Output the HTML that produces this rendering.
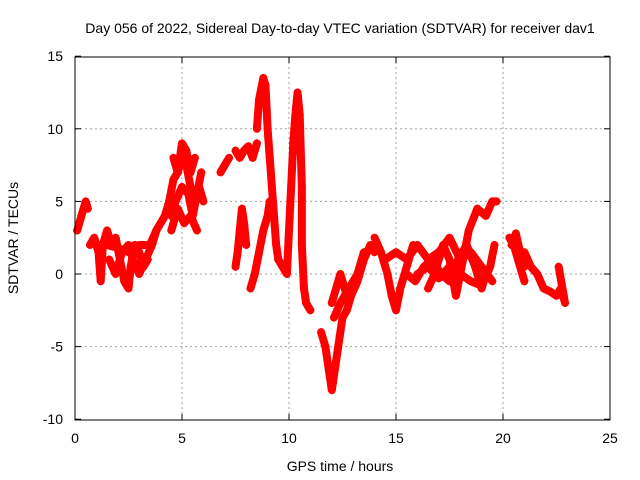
<!DOCTYPE html>
<html><head><meta charset="utf-8"><style>
body{margin:0;background:#fff}
svg{display:block;font-family:"Liberation Sans",sans-serif}
</style></head><body>
<svg id="chart" width="640" height="480">
<rect width="640" height="480" fill="#fff"/>
<text x="340" y="33" font-size="14" text-anchor="middle">Day 056 of 2022, Sidereal Day-to-day VTEC variation (SDTVAR) for receiver dav1</text>
<text x="340" y="471" font-size="14" text-anchor="middle">GPS time / hours</text>
<text x="18" y="238" font-size="14" text-anchor="middle" transform="rotate(-90 18 238)">SDTVAR / TECUs</text>
<g id="grid"></g><g id="marks"></g>
<rect x="75" y="57" width="535" height="363" fill="none" stroke="#000"/>
<g id="ticks"></g>
</svg>
<script>
const xTicks=[0,5,10,15,20,25];
const yTicks=[-10,-5,0,5,10,15];
const track1=[[0.1,3],[0.2,3.5],[0.3,4],[0.4,4.5],[0.5,5],[0.6,4.5]];
const track2=[[0.7,2],[0.9,2.5],[1.1,1.5],[1.2,-0.5],[1.3,2],[1.5,3],[1.7,2],[1.9,2.5],[2.1,1],[2.3,-0.5],[2.5,-1],[2.6,0.5],[2.8,2],[3.0,1.5],[3.2,0.5],[3.4,1]];
const track3=[[1.6,1],[1.9,0],[2.2,1.5],[2.5,2],[2.7,1],[3.0,0],[3.3,1],[3.6,2],[3.8,3]];
const track4=[[3.5,2],[3.8,3],[4.0,3.5],[4.2,4],[4.4,5],[4.6,6.5],[4.8,7],[5.0,8],[5.2,7.5],[5.4,6],[5.6,5],[5.8,6],[6.0,5]];
const track5=[[4.5,4],[4.7,5],[5.0,6],[5.3,5.5],[5.5,4],[5.7,5.5],[5.9,7]];
const track6=[[6.8,7],[7.0,7.5],[7.2,8]];
const track7=[[7.5,8.5],[7.7,8],[7.9,8.5],[8.1,8.8],[8.3,8],[8.5,9]];
const track8=[[8.5,10],[8.6,12],[8.8,13.5],[8.9,13],[9.0,10],[9.1,8],[9.2,6],[9.3,4],[9.4,2],[9.5,1]];
const track9=[[7.5,0.5],[7.6,1.5],[7.7,3],[7.8,4.5],[7.9,3.5],[8.0,2]];
const track10=[[8.2,-1],[8.4,0],[8.6,1.5],[8.8,3],[9.0,4],[9.1,5]];
const track11=[[9.5,1],[9.7,0.5],[9.9,0],[10.0,3],[10.1,6],[10.2,9],[10.3,11],[10.4,12.5],[10.5,11],[10.6,6],[10.6,2],[10.7,-1],[10.8,-2],[11.0,-2.5]];
const track12=[[11.5,-4],[11.7,-5],[11.9,-7],[12.0,-8],[12.1,-7],[12.3,-5],[12.5,-3],[12.7,-2.5],[12.9,-1.5],[13.2,-0.5],[13.5,1],[13.8,2],[14.0,1.5]];
const track13=[[12.0,-2],[12.2,-1],[12.4,0],[12.6,-1],[12.8,-2]];
const track14=[[14.0,2.5],[14.3,1.5],[14.6,0],[14.8,-1.5],[15.0,-2.5],[15.2,-1],[15.4,0],[15.6,1],[15.8,2]];
const track15=[[15.5,0],[15.9,-0.5],[16.3,0.5],[16.7,1],[17.1,0],[17.5,-0.5],[17.9,1],[18.3,2],[18.7,0.5],[19.0,-1],[19.2,0]];
const track16=[[16.5,-1],[16.8,0],[17.2,2],[17.5,1],[17.8,-1.5],[18.0,0],[18.4,3],[18.8,4.5],[19.2,4],[19.5,5],[19.7,5]];
const track17=[[20.3,2.5],[20.5,2],[20.7,1],[20.9,0],[21.0,-0.5]];
const track18=[[20.7,1],[21.0,1.5],[21.3,0.5],[21.6,0],[21.9,-1],[22.2,-1.2],[22.5,-1.5],[22.7,-1],[22.9,-2],[22.6,0.5]];
const track19=[[4.6,8],[4.8,7],[5.0,9],[5.2,8.5],[5.4,7],[5.6,8]];
const track20=[[4.5,3],[4.8,4.5],[5.1,3.5],[5.4,4],[5.7,3]];
const track21=[[14.5,1],[15.0,1.5],[15.5,1],[16.0,2],[16.5,1],[17.0,1.5],[17.5,2.5],[18.0,1],[18.5,1.5],[19.0,0.5],[19.5,-0.5]];
const track22=[[16.0,0],[16.5,0.5],[17.0,-0.3],[17.5,0.5],[18.0,0],[18.5,-0.5],[19.0,-0.8],[19.4,0.5],[19.6,2]];
const track23=[[1.0,2],[1.5,2],[2.0,1.8],[2.5,1.5],[3.0,2],[3.5,2]];
const track24=[[12.1,-3],[12.4,-2],[12.8,-1],[13.2,0],[13.5,1.5]];
const track25=[[20.4,2],[20.6,2.8],[20.8,1.5],[21.0,0.5]];
const tracks=[track1,track2,track3,track4,track5,track6,track7,track8,track9,track10,track11,track12,track13,track14,track15,track16,track17,track18,track19,track20,track21,track22,track23,track24,track25];
const X=v=>75+v*535/25, Y=v=>274-v*363/25;
const NS="http://www.w3.org/2000/svg";
const grid=document.getElementById('grid'),ticks=document.getElementById('ticks'),marks=document.getElementById('marks');
function mk(tag,at,parent){const e=document.createElementNS(NS,tag);for(const k in at)e.setAttribute(k,at[k]);parent.appendChild(e);return e;}
xTicks.forEach(t=>{
 if(t>0&&t<25){const g=mk('line',{x1:X(t),x2:X(t),y1:57,y2:420,stroke:'#a0a0a0','stroke-dasharray':'2,3'},grid);
 
 }
 mk('line',{x1:X(t),x2:X(t),y1:420,y2:414,stroke:'#000'},ticks);
 mk('line',{x1:X(t),x2:X(t),y1:57,y2:63,stroke:'#000'},ticks);
 const l=mk('text',{x:X(t),y:443,'font-size':14,'text-anchor':'middle'},ticks);l.textContent=t;
 
 
});
yTicks.forEach(t=>{
 if(t>-10&&t<15){const g=mk('line',{x1:75,x2:610,y1:Y(t),y2:Y(t),stroke:'#a0a0a0','stroke-dasharray':'2,3'},grid);
 
 }
 mk('line',{x1:75,x2:81,y1:Y(t),y2:Y(t),stroke:'#000'},ticks);
 mk('line',{x1:604,x2:610,y1:Y(t),y2:Y(t),stroke:'#000'},ticks);
 const l=mk('text',{x:63,y:Y(t)+5,'font-size':14,'text-anchor':'end'},ticks);l.textContent=t;
 
 
});
tracks.forEach(tr=>{
 const p=mk('polyline',{points:tr.map(d=>X(d[0])+','+Y(d[1])).join(' '),fill:'none',stroke:'#f00','stroke-width':8,'stroke-linejoin':'round','stroke-linecap':'round'},marks);
 
 
 tr.forEach(d=>{
  const x=X(d[0]),y=Y(d[1]);
  const m=mk('path',{d:`M${x-4},${y}h8M${x},${y-4}v8`,stroke:'#f00','stroke-width':1},marks);
  
  
 });
});
</script>
</body></html>
